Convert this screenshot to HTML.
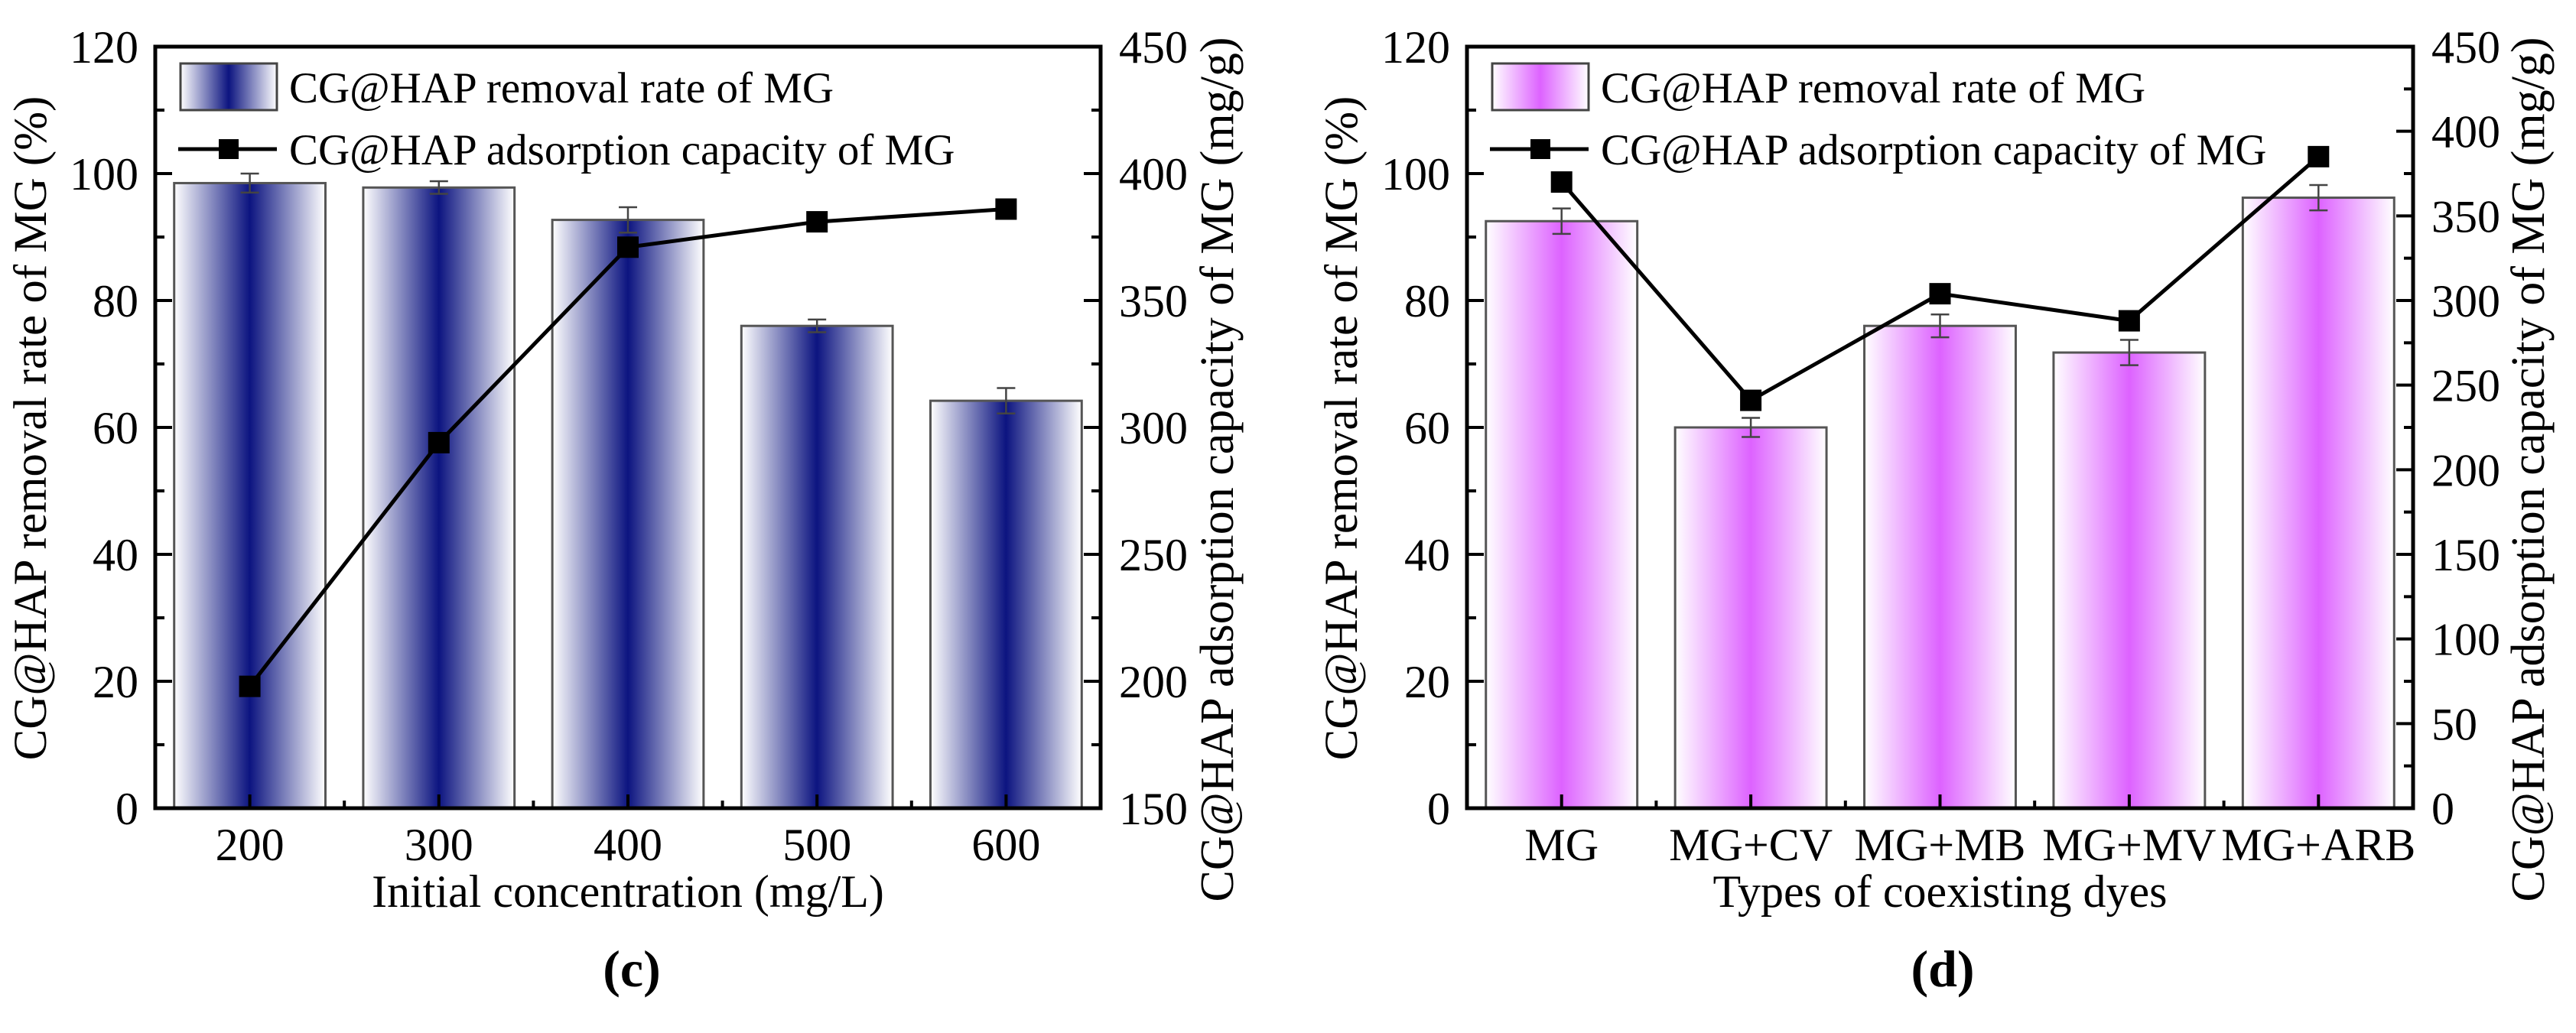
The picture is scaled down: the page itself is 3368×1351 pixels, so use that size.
<!DOCTYPE html>
<html><head><meta charset="utf-8"><style>
html,body{margin:0;padding:0;background:#fff;}
svg text{font-family:"Liberation Serif",serif;fill:#000;}
</style></head><body>
<svg id="fig" width="3368" height="1346" viewBox="0 0 3368 1346" xmlns="http://www.w3.org/2000/svg">
<defs>
<linearGradient id="gNavy" x1="0" x2="1" y1="0" y2="0">
<stop offset="0" stop-color="#ffffff"/><stop offset="0.5" stop-color="#0c1480"/><stop offset="1" stop-color="#ffffff"/>
</linearGradient>
<linearGradient id="gPink" x1="0" x2="1" y1="0" y2="0">
<stop offset="0" stop-color="#ffffff"/><stop offset="0.5" stop-color="#dd62ff"/><stop offset="1" stop-color="#ffffff"/>
</linearGradient>
</defs>
</svg>
<script>
// Panel (c) data
const catsC = ["200","300","400","500","600"];
const barsC = [98.5, 97.8, 92.7, 76.0, 64.2];
const errC = [1.5, 1.0, 2.0, 1.0, 2.0];
const lineC = [198, 294, 371, 381, 386];
// Panel (d) data
const catsD = ["MG","MG+CV","MG+MB","MG+MV","MG+ARB"];
const barsD = [92.5, 60.0, 76.0, 71.8, 96.2];
const errD = [2.0, 1.5, 1.8, 2.0, 2.0];
const lineD = [370, 241, 304, 288, 385];
const leftTicks = [0,20,40,60,80,100,120];
const rightTicksC = [150,200,250,300,350,400,450];
const rightTicksD = [0,50,100,150,200,250,300,350,400,450];

const NS = "http://www.w3.org/2000/svg";
const svg = document.getElementById("fig");
function mk(tag, attrs, parent, text){
  const e = document.createElementNS(NS, tag);
  for (const k in attrs) e.setAttribute(k, attrs[k]);
  if (text !== undefined) e.textContent = text;
  (parent||svg).appendChild(e);
  return e;
}

function panel(o){
  const g = mk("g", {});
  
  
  const X0=o.x0, X1=o.x1, Y0=61, Y1=1057;
  const n = o.cats.length, step=(X1-X0)/n;
  const xc = i => X0 + step*(i+0.5);
  const yL = v => Y1 - (v-0)/(120-0)*(Y1-Y0);
  const yR = v => Y1 - (v-o.rMin)/(o.rMax-o.rMin)*(Y1-Y0);
  const bw = step*0.8;
  o.bars.forEach((v,i)=>{
    const r = mk("rect",{x:xc(i)-bw/2,y:yL(v),width:bw,height:Y1-yL(v),fill:o.grad,stroke:"#555",["stroke-width"]:3},g);
    
    
    const e = o.err[i], top=yL(v+e), bot=yL(v-e);
    const eb = mk("path",{d:`M${xc(i)},${top}V${bot}M${xc(i)-12},${top}H${xc(i)+12}M${xc(i)-12},${bot}H${xc(i)+12}`,stroke:"#444",["stroke-width"]:2.5,fill:"none"},g);
    
    
  });
  const pts = o.line.map((v,i)=>`${xc(i)},${yR(v)}`).join(" ");
  const pl = mk("polyline",{points:pts,fill:"none",stroke:"#000",["stroke-width"]:5},g);
  
  
  o.line.forEach((v,i)=>{
    const m = mk("rect",{x:xc(i)-14,y:yR(v)-14,width:28,height:28,fill:"#000"},g);
    
    
  });
  const fr = mk("rect",{x:X0,y:Y0,width:X1-X0,height:Y1-Y0,fill:"none",stroke:"#000",["stroke-width"]:5},g);
  
  
  leftTicks.forEach((t,i)=>{
    mk("line",{x1:X0,x2:X0+22,y1:yL(t),y2:yL(t),stroke:"#000",["stroke-width"]:4},g);
    if(i<leftTicks.length-1) mk("line",{x1:X0,x2:X0+12,y1:yL(t+10),y2:yL(t+10),stroke:"#000",["stroke-width"]:4},g);
    const tl = mk("text",{x:X0-22,y:yL(t)+21,"font-size":60,"text-anchor":"end"},g,String(t));
    
    
  });
  const rs = o.rTicks[1]-o.rTicks[0];
  o.rTicks.forEach((t,i)=>{
    mk("line",{x1:X1,x2:X1-22,y1:yR(t),y2:yR(t),stroke:"#000",["stroke-width"]:4},g);
    if(i<o.rTicks.length-1) mk("line",{x1:X1,x2:X1-12,y1:yR(t+rs/2),y2:yR(t+rs/2),stroke:"#000",["stroke-width"]:4},g);
    const tl = mk("text",{x:X1+24,y:yR(t)+21,"font-size":60,"text-anchor":"start"},g,String(t));
    
    
  });
  o.cats.forEach((c,i)=>{
    mk("line",{x1:xc(i),x2:xc(i),y1:Y1,y2:Y1-18,stroke:"#000",["stroke-width"]:4},g);
    if(i<n-1) mk("line",{x1:X0+step*(i+1),x2:X0+step*(i+1),y1:Y1,y2:Y1-10,stroke:"#000",["stroke-width"]:4},g);
    const tl = mk("text",{x:xc(i),y:1125,"font-size":60,"text-anchor":"middle"},g,c);
    
    
  });
  const xt = mk("text",{x:(X0+X1)/2,y:1186,"font-size":60,"text-anchor":"middle"},g,o.xTitle);
  
  
  const ly = mk("text",{x:0,y:0,"font-size":61,"text-anchor":"middle",transform:`translate(${o.lTitleX},560) rotate(-90)`},g,"CG@HAP removal rate of MG (%)");
  
  
  const ry = mk("text",{x:0,y:0,"font-size":62,"text-anchor":"middle",transform:`translate(${o.rTitleX},614) rotate(-90)`},g,"CG@HAP adsorption capacity of MG (mg/g)");
  
  
  const lx = X0+33;
  const sw = mk("rect",{x:lx,y:83,width:126,height:61,fill:o.grad,stroke:"#444",["stroke-width"]:3},g);
  
  
  const t1 = mk("text",{x:lx+142,y:134,"font-size":57},g,"CG@HAP removal rate of MG");
  
  
  mk("line",{x1:lx-3,x2:lx+126,y1:195,y2:195,stroke:"#000",["stroke-width"]:5},g);
  mk("rect",{x:lx+50,y:182,width:26,height:26,fill:"#000"},g);
  const t2 = mk("text",{x:lx+142,y:215,"font-size":57},g,"CG@HAP adsorption capacity of MG");
  
  
  const pl2 = mk("text",{x:o.labX,y:1290,"font-size":68,"font-weight":"bold","text-anchor":"middle"},g,o.label);
  
  
}

panel({name:"panel-c",x0:203,x1:1439,cats:catsC,bars:barsC,err:errC,line:lineC,rMin:150,rMax:450,rTicks:rightTicksC,grad:"url(#gNavy)",xTitle:"Initial concentration (mg/L)",lTitleX:60,rTitleX:1612,label:"(c)",labX:826});
panel({name:"panel-d",x0:1918,x1:3155,cats:catsD,bars:barsD,err:errD,line:lineD,rMin:0,rMax:450,rTicks:rightTicksD,grad:"url(#gPink)",xTitle:"Types of coexisting dyes",lTitleX:1774,rTitleX:3326,label:"(d)",labX:2540});
</script>
</body></html>
